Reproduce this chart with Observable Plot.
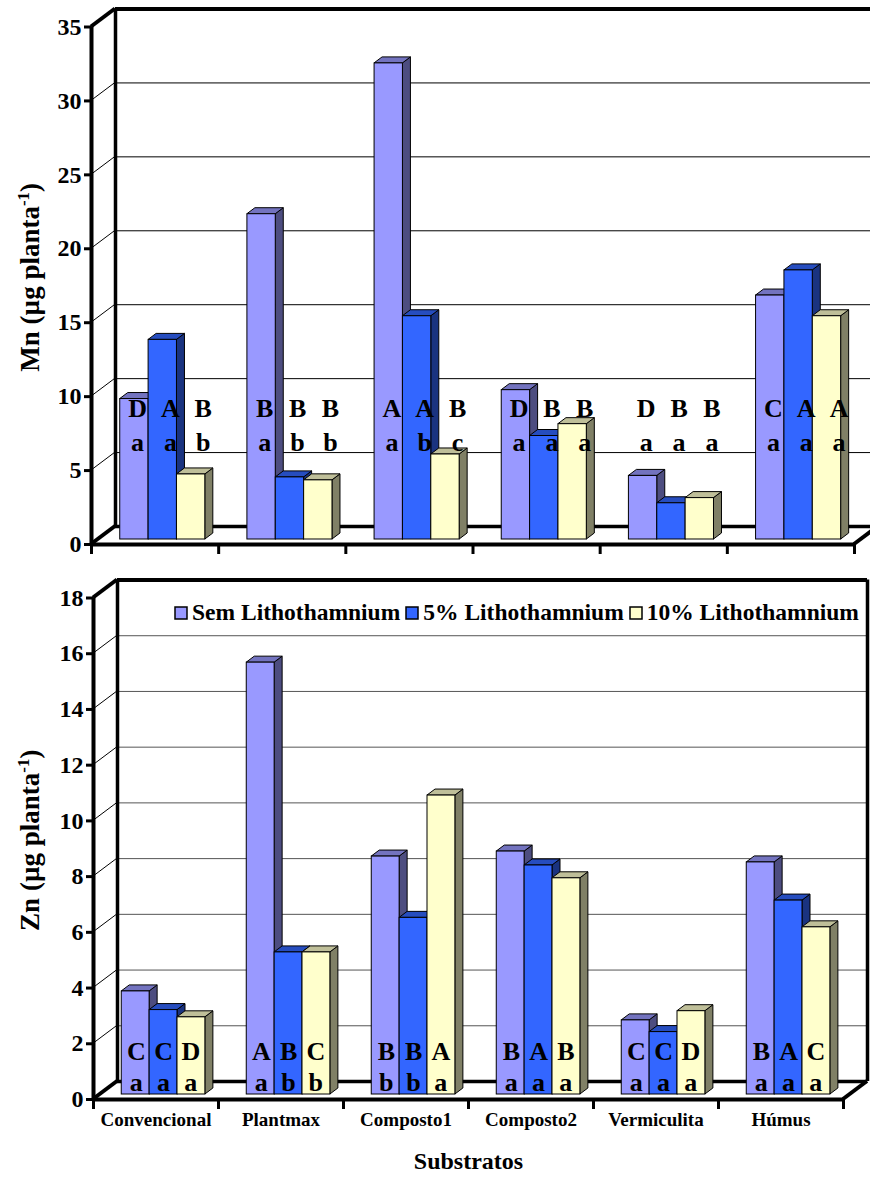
<!DOCTYPE html>
<html>
<head>
<meta charset="utf-8">
<script src="https://cdn.jsdelivr.net/npm/d3@7"></script>
<script src="https://cdn.jsdelivr.net/npm/@observablehq/plot@0.6"></script>
<style>
  html, body { margin: 0; padding: 0; background: #fff; }
  #chart { position: relative; width: 870px; height: 1182px; overflow: hidden; background: #fff; }
  #chart > svg { position: absolute; left: 0; z-index: 1; }
  #legend { position: absolute; left: 175px; top: 596px; z-index: 2; }
  #legend, #legend * { font-family: "Liberation Serif", "Times New Roman", serif !important; font-size: 23.5px !important; font-weight: bold !important; color: #000 !important; }
  #legend > div { margin: 0 !important; display: flex !important; align-items: center; white-space: nowrap; }
  #legend span { margin-right: 6px !important; display: inline-flex !important; align-items: center; }
  #legend span > svg { margin-right: 5px !important; }
  #legend svg rect { stroke: #000; stroke-width: 1.5px; }
</style>
</head>
<body>
<div id="chart"><div id="legend"></div></div>
<script>
// ---- data ----
const categories = ["Convencional", "Plantmax", "Composto1", "Composto2", "Vermiculita", "Húmus"];
const series = ["Sem Lithothamnium", "5% Lithothamnium", "10% Lithothamnium"];

// Mn (µg planta-1)
const mnSem = [9.5, 22.0, 32.2, 10.1, 4.3, 16.5];
const mn5 = [13.5, 4.2, 15.1, 7.0, 2.45, 18.2];
const mn10 = [4.4, 4.0, 5.75, 7.8, 2.8, 15.1];
const mnCapsSem = ["D", "B", "A", "D", "D", "C"];
const mnCaps5 = ["A", "B", "A", "B", "B", "A"];
const mnCaps10 = ["B", "B", "B", "B", "B", "A"];
const mnLowSem = ["a", "a", "a", "a", "a", "a"];
const mnLow5 = ["a", "b", "b", "a", "a", "a"];
const mnLow10 = ["b", "b", "c", "a", "a", "a"];
const mnTicks = [0, 5, 10, 15, 20, 25, 30, 35];

// Zn (µg planta-1)
const znSem = [3.7, 15.5, 8.54, 8.72, 2.66, 8.33];
const zn5 = [3.03, 5.1, 6.34, 8.22, 2.24, 6.96];
const zn10 = [2.77, 5.1, 10.73, 7.76, 2.99, 6.0];
const znCapsSem = ["C", "A", "B", "B", "C", "B"];
const znCaps5 = ["C", "B", "B", "A", "C", "A"];
const znCaps10 = ["D", "C", "A", "B", "D", "C"];
const znLowSem = ["a", "a", "b", "a", "a", "a"];
const znLow5 = ["a", "b", "b", "a", "a", "a"];
const znLow10 = ["a", "b", "a", "a", "a", "a"];
const znTicks = [0, 2, 4, 6, 8, 10, 12, 14, 16, 18];

// ---- styling ----
const frontColors = ["#9999FF", "#3366FF", "#FFFFCC"];
const sideColors = ["#4D4D80", "#1A3380", "#808066"];
const topColors = ["#7373BF", "#264DBF", "#BFBF99"];
const FONT = "Liberation Serif, Times New Roman, serif";
const DEPTH_X = 24, DEPTH_Y = 18;   // depth of the 3-D box (walls)
const BAR_DX = 8, BAR_DY = 6;       // depth of each column
const LIFT = -5;                    // columns stand slightly behind the front edge
const BAR_OFFSET = 0.226, BAR_WIDTH = 0.223;
const LETTER_SIZE = 26;

function buildRows(values, caps, lows) {
  const rows = [];
  categories.forEach((c, i) => {
    series.forEach((s, k) => {
      const x1 = i + BAR_OFFSET + k * BAR_WIDTH;
      rows.push({category: c, series: s, k, x1, x2: x1 + BAR_WIDTH,
                 value: values[k][i], cap: caps[k][i], low: lows[k][i]});
    });
  });
  return rows;
}

// side and top faces of each column, painted left to right
function columnFaces(rows) {
  return (index, {x, y}) => {
    const g = d3.create("svg:g").attr("stroke", "#000").attr("stroke-width", 1).attr("stroke-linejoin", "round");
    for (const r of rows) {
      const X1 = x(r.x1), X2 = x(r.x2), Y0 = y(0) + LIFT, Yv = y(r.value) + LIFT;
      g.append("path")
        .attr("d", `M${X2},${Y0}L${X2 + BAR_DX},${Y0 - BAR_DY}L${X2 + BAR_DX},${Yv - BAR_DY}L${X2},${Yv}Z`)
        .attr("fill", sideColors[r.k]);
      g.append("path")
        .attr("d", `M${X1},${Yv}L${X1 + BAR_DX},${Yv - BAR_DY}L${X2 + BAR_DX},${Yv - BAR_DY}L${X2},${Yv}Z`)
        .attr("fill", topColors[r.k]);
    }
    return g.node();
  };
}

// left wall diagonals and the floor's right edge
function boxEdges(ticks, xMax) {
  return (index, {x, y}) => {
    const g = d3.create("svg:g").attr("stroke", "#000").attr("fill", "none");
    const top = ticks[ticks.length - 1];
    for (const t of ticks) {
      const heavy = t === 0 || t === top;
      g.append("line")
        .attr("x1", x(0)).attr("y1", y(t))
        .attr("x2", x(0) + DEPTH_X).attr("y2", y(t) - DEPTH_Y)
        .attr("stroke-width", heavy ? 4 : 1);
    }
    g.append("line")
      .attr("x1", x(xMax)).attr("y1", y(0))
      .attr("x2", x(xMax) + DEPTH_X).attr("y2", y(0) - DEPTH_Y)
      .attr("stroke-width", 4);
    return g.node();
  };
}

// rotated y title with superscript exponent
function yTitle(element) {
  return (index, scales, values, dims) => {
    const cy = (dims.marginTop + dims.height - dims.marginBottom) / 2 - 8;
    const t = d3.create("svg:text")
      .attr("transform", `translate(39,${cy}) rotate(-90)`)
      .attr("text-anchor", "middle")
      .attr("font-family", FONT).attr("font-weight", "bold").attr("font-size", 27);
    t.append("tspan").text(`${element} (µg planta`);
    t.append("tspan").attr("font-size", 17).attr("dy", -10).text("-1");
    t.append("tspan").attr("dy", 10).text(")");
    return t.node();
  };
}

function panel({values, caps, lows, ticks, element, height, marginTop, marginBottom, marginLeft, marginRight,
                gridColor, capY, lowY, labelShift, withCategories}) {
  const rows = buildRows(values, caps, lows);
  const yMax = ticks[ticks.length - 1];
  const wall = {dx: DEPTH_X, dy: -DEPTH_Y};
  const letterX = r => (r.x1 + r.x2) / 2 + labelShift[r.k];
  const letterStyle = {fontSize: LETTER_SIZE, fontWeight: "bold", fontFamily: FONT, fill: "#000", lineAnchor: "middle"};
  const marks = [
    // back wall grid and outline
    Plot.ruleY(ticks.slice(1, -1), {x1: 0, x2: 6, ...wall, stroke: gridColor, strokeWidth: 1}),
    Plot.ruleY([0], {x1: 0, x2: 6, ...wall, stroke: "#000", strokeWidth: 3.5}),
    Plot.ruleY([yMax], {x1: 0, x2: 6, ...wall, stroke: "#000", strokeWidth: 4}),
    Plot.ruleX([0, 6], {y1: 0, y2: yMax, ...wall, stroke: "#000", strokeWidth: 3.5}),
    boxEdges(ticks, 6),
    // front edges
    Plot.ruleX([0], {y1: 0, y2: yMax, stroke: "#000", strokeWidth: 4}),
    Plot.ruleY([0], {x1: 0, x2: 6, stroke: "#000", strokeWidth: 4}),
    Plot.axisY({ticks, tickSize: 7, tickPadding: 3, strokeWidth: 3, fontSize: 24, fontWeight: "bold",
                fontFamily: FONT, label: null, tickFormat: d3.format("d")}),
    Plot.axisX({ticks: d3.range(0, 7), tickSize: 10, strokeWidth: 3, tickFormat: () => "", label: null}),
    // columns
    columnFaces(rows),
    Plot.rect(rows, {x1: "x1", x2: "x2", y1: 0, y2: "value", fill: "series", stroke: "#000", strokeWidth: 1, dy: LIFT}),
    // significance letters
    Plot.text(rows, {x: letterX, y: () => capY, text: "cap", ...letterStyle}),
    Plot.text(rows, {x: letterX, y: () => lowY, text: "low", ...letterStyle}),
    yTitle(element)
  ];
  if (withCategories) {
    marks.push(Plot.text(categories, {x: (d, i) => i + 0.5, frameAnchor: "bottom", dy: 26, fontSize: 19,
                                      fontWeight: "bold", fontFamily: FONT, fill: "#000"}));
    marks.push(Plot.text(["Substratos"], {x: 3, frameAnchor: "bottom", dy: 69, fontSize: 24,
                                          fontWeight: "bold", fontFamily: FONT, fill: "#000"}));
  }
  return Plot.plot({
    width: 870, height, marginTop, marginBottom, marginLeft, marginRight,
    x: {type: "linear", domain: [0, 6], axis: null},
    y: {domain: [0, yMax], axis: null},
    color: {domain: series, range: frontColors},
    style: {fontFamily: FONT, background: "#fff", overflow: "visible"},
    marks
  });
}

const chart = document.getElementById("chart");

const mnPlot = panel({
  values: [mnSem, mn5, mn10], caps: [mnCapsSem, mnCaps5, mnCaps10], lows: [mnLowSem, mnLow5, mnLow10],
  ticks: mnTicks, element: "Mn", height: 560, marginTop: 26.5, marginBottom: 16, marginLeft: 91, marginRight: 16,
  gridColor: "#000", capY: 9.2, lowY: 6.9, labelShift: [0.025, 0.06, 0.095], withCategories: false
});
mnPlot.style.top = "0px";
chart.appendChild(mnPlot);

const znPlot = panel({
  values: [znSem, zn5, zn10], caps: [znCapsSem, znCaps5, znCaps10], lows: [znLowSem, znLow5, znLow10],
  ticks: znTicks, element: "Zn", height: 612, marginTop: 27.5, marginBottom: 83, marginLeft: 93, marginRight: 27,
  gridColor: "#555", capY: 1.72, lowY: 0.61, labelShift: [0.005, 0, -0.005], withCategories: true
});
znPlot.style.top = "570px";
chart.appendChild(znPlot);

const legend = Plot.legend({
  color: {domain: series, range: frontColors},
  legend: "swatches", className: "lg", swatchSize: 12
});
document.getElementById("legend").appendChild(legend);
</script>
</body>
</html>
